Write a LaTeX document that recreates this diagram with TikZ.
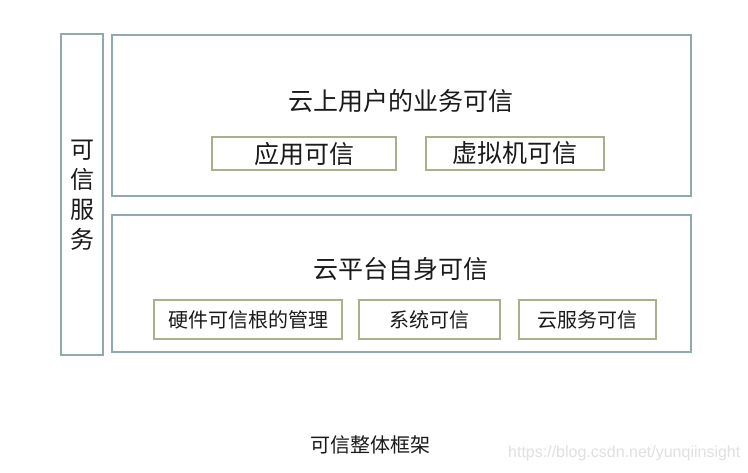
\documentclass[tikz,border=0pt]{standalone}
\usepackage{fontspec}
\setmainfont{Noto Sans CJK SC}
\newfontfamily\wmfont{Liberation Sans}
\definecolor{outerc}{HTML}{8FAAAA}
\definecolor{innerc}{HTML}{A9B08F}
\definecolor{txt}{HTML}{1A1A1A}
\begin{document}
\begin{tikzpicture}[x=1pt,y=-1pt,
  outer/.style={draw=outerc,line width=1.1pt},
  inner/.style={draw=innerc,line width=1.1pt},
  lab/.style={text=txt,inner sep=0pt},
  big/.style={font=\fontsize{25}{28}\selectfont},
  small/.style={font=\fontsize{20}{23}\selectfont}]
\useasboundingbox (0,0) rectangle (748,472);
\fill[white] (0,0) rectangle (748,472);
% outer boxes
\draw[outer] (61,34) rectangle (103,355);
\draw[outer] (112,35) rectangle (691,196);
\draw[outer] (112,215) rectangle (691,352);
% left vertical text
\node[lab,font=\fontsize{24}{30}\selectfont,align=center] (svc) at (82,195) {可\\信\\服\\务};
% titles
\node[lab,big] (t1) at (401,101) {云上用户的业务可信};
\node[lab,big] (t2) at (401,269) {云平台自身可信};
% inner boxes top
\node[inner,lab,big,minimum width=184pt,minimum height=33pt] (app) at (304,153.5) {应用可信};
\node[inner,lab,big,minimum width=178pt,minimum height=33pt] (vm) at (515,153.5) {虚拟机可信};
% inner boxes bottom
\node[inner,lab,small,minimum width=188pt,minimum height=39pt] (hw) at (248,319.5) {硬件可信根的管理};
\node[inner,lab,small,minimum width=141pt,minimum height=39pt] (sys) at (429.5,319.5) {系统可信};
\node[inner,lab,small,minimum width=137pt,minimum height=39pt] (cs) at (587.5,319.5) {云服务可信};
% caption
\node[lab,small] (cap) at (370,445) {可信整体框架};
\node[inner sep=0pt,text=black!12,font=\wmfont\fontsize{16}{18}\selectfont,anchor=west] (wm) at (508,453) {https://blog.csdn.net/yunqiinsight};
\end{tikzpicture}
\end{document}
